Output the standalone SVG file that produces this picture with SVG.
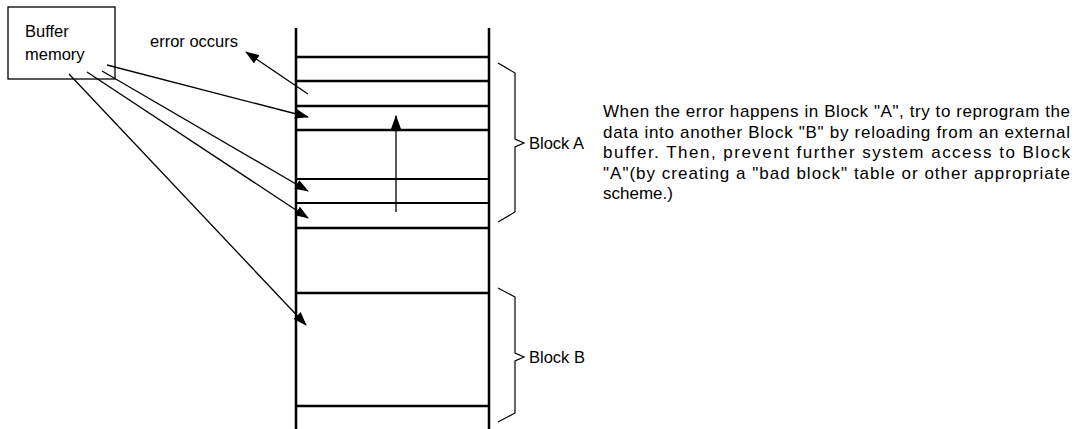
<svg xmlns="http://www.w3.org/2000/svg" width="1081" height="429" viewBox="0 0 1081 429">
<defs>
<style>
text{font-family:"Liberation Sans",Arial,sans-serif;fill:#000}
.lbl{font-size:16.5px}
.para{font-size:17px}
.wall{stroke:#000;stroke-width:2.5;fill:none}
.row{stroke:#000;stroke-width:2.5;fill:none}
.row2{stroke:#000;stroke-width:1.8;fill:none}
.brace{stroke:#000;stroke-width:1.2;fill:none}
.conn{stroke:#000;stroke-width:1.3;fill:none;marker-end:url(#ah)}
</style>
<marker id="ah" markerUnits="userSpaceOnUse" markerWidth="14" markerHeight="10" refX="13" refY="5" orient="auto">
<path d="M0,0 L14,5 L0,10 Z" fill="#000"/>
</marker>
</defs>
<rect width="1081" height="429" fill="#fff"/>

<g id="buffer-memory">
<rect x="8" y="7" width="107" height="72" fill="none" stroke="#000" stroke-width="1.3"/>
<text class="lbl" x="25" y="37">Buffer</text>
<text class="lbl" x="25" y="60">memory</text>
</g>

<g id="error-label">
<text class="lbl" x="150" y="47">error occurs</text>
</g>

<g id="memory-column">
<line class="wall" x1="296" y1="28" x2="296" y2="429"/>
<line class="wall" x1="489" y1="28" x2="489" y2="429"/>
<line class="row" x1="296" y1="57" x2="489" y2="57"/>
<line class="row" x1="296" y1="81" x2="489" y2="81"/>
<line class="row" x1="296" y1="106" x2="489" y2="106"/>
<line class="row" x1="296" y1="130" x2="489" y2="130"/>
<line class="row2" x1="296" y1="179" x2="489" y2="179"/>
<line class="row2" x1="296" y1="203" x2="489" y2="203"/>
<line class="row" x1="296" y1="228" x2="489" y2="228"/>
<line class="row" x1="296" y1="293" x2="489" y2="293"/>
<line class="row" x1="296" y1="406" x2="489" y2="406"/>
</g>

<g id="block-a">
<path class="brace" d="M498,63 L515,73 L515,139 L524,143 L515,147 L515,212 L498,222"/>
<text class="lbl" x="529" y="149">Block A</text>
</g>

<g id="block-b">
<path class="brace" d="M498,288 L515,297 L515,353 L524,357 L515,361 L515,413 L498,422"/>
<text class="lbl" x="529" y="363">Block B</text>
</g>

<g id="description">
<text class="para" x="603" y="117" textLength="467" lengthAdjust="spacing">When the error happens in Block "A", try to reprogram the</text>
<text class="para" x="603" y="137.5" textLength="467" lengthAdjust="spacing">data into another Block "B" by reloading from an external</text>
<text class="para" x="603" y="158" textLength="467" lengthAdjust="spacing">buffer. Then, prevent further system access to Block</text>
<text class="para" x="603" y="178.5" textLength="467" lengthAdjust="spacing">"A"(by creating a "bad block" table or other appropriate</text>
<text class="para" x="603" y="199">scheme.)</text>
</g>

<g id="connectors">
<line class="conn" x1="308" y1="94" x2="246" y2="52"/>
<line class="conn" x1="107" y1="65" x2="308" y2="117"/>
<line class="conn" x1="102" y1="71" x2="308" y2="191"/>
<line class="conn" x1="87" y1="72" x2="308" y2="218"/>
<line class="conn" x1="69" y1="74" x2="306" y2="325"/>
<line class="conn" x1="396" y1="212" x2="396" y2="116"/>
</g>
</svg>
